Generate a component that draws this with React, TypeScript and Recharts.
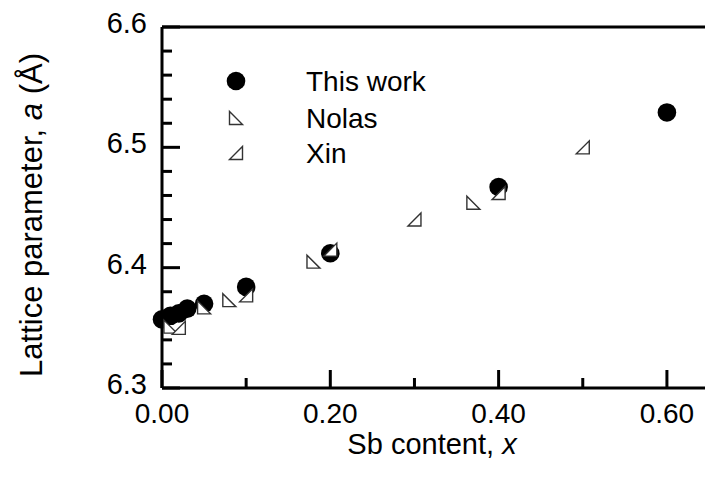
import React from 'react';
import { ScatterChart, Scatter, XAxis, YAxis, Legend } from 'recharts';

// Sb content x and lattice parameter a (Å)
const thisWorkX = [0, 0.01, 0.02, 0.03, 0.05, 0.1, 0.2, 0.4, 0.6];
const thisWorkA = [6.357, 6.36, 6.362, 6.366, 6.37, 6.384, 6.412, 6.467, 6.529];

const nolasX = [0.01, 0.05, 0.08, 0.18, 0.37];
const nolasA = [6.351, 6.367, 6.373, 6.405, 6.454];

const xinX = [0.02, 0.1, 0.2, 0.3, 0.4, 0.5];
const xinA = [6.35, 6.377, 6.415, 6.44, 6.462, 6.5];

const seriesNames = ['This work', 'Nolas', 'Xin'];

const xTicks = [0, 0.1, 0.2, 0.3, 0.4, 0.5, 0.6];
const xLabelTicks = [0, 0.2, 0.4, 0.6];
const yTicks = [6.3, 6.32, 6.34, 6.36, 6.38, 6.4, 6.42, 6.44, 6.46, 6.48, 6.5, 6.52, 6.54, 6.56, 6.58, 6.6];
const yLabelTicks = [6.3, 6.4, 6.5, 6.6];

const FONT = '"Liberation Sans", Arial, sans-serif';
const MAJOR = 18;
const MINOR = 10;
const TRI = 13;

const thisWorkData = thisWorkX.map((x, i) => ({ x, a: thisWorkA[i] }));
const nolasData = nolasX.map((x, i) => ({ x, a: nolasA[i] }));
const xinData = xinX.map((x, i) => ({ x, a: xinA[i] }));

const isMajor = (v: number, list: number[]) => list.some((m) => Math.abs(m - v) < 1e-6);

const Dot = ({ cx, cy }: any) => <circle cx={cx} cy={cy} r={9.3} fill="#000" />;

const NolasMark = ({ cx, cy }: any) => {
  const h = TRI / 2;
  return (
    <polygon
      points={`${cx - h},${cy - h} ${cx - h},${cy + h} ${cx + h},${cy + h}`}
      fill="#fff"
      stroke="#333"
      strokeWidth={1.4}
    />
  );
};

const XinMark = ({ cx, cy }: any) => {
  const h = TRI / 2;
  return (
    <polygon
      points={`${cx - h},${cy + h} ${cx + h},${cy + h} ${cx + h},${cy - h}`}
      fill="#fff"
      stroke="#333"
      strokeWidth={1.4}
    />
  );
};

// inward tick marks; labels only on the majors
const BottomTick = ({ x, y, payload }: any) => {
  const major = isMajor(payload.value, xLabelTicks);
  return (
    <g>
      <line x1={x} x2={x} y1={y} y2={y - (major ? MAJOR : MINOR)} stroke="#000" strokeWidth={3} />
      {major && (
        <text x={x} y={y + 35} textAnchor="middle" fontSize={28} fontFamily={FONT} fill="#000">
          {payload.value.toFixed(2)}
        </text>
      )}
    </g>
  );
};

const TopTick = ({ x, y, payload }: any) => {
  const major = isMajor(payload.value, xLabelTicks);
  return <line x1={x} x2={x} y1={y} y2={y + (major ? MAJOR : MINOR)} stroke="#000" strokeWidth={3} />;
};

const LeftTick = ({ x, y, payload }: any) => {
  const major = isMajor(payload.value, yLabelTicks);
  return (
    <g>
      <line x1={x} x2={x + (major ? MAJOR : MINOR)} y1={y} y2={y} stroke="#000" strokeWidth={3} />
      {major && (
        <text x={x - 15} y={y + 6} textAnchor="end" fontSize={29} fontFamily={FONT} fill="#000">
          {payload.value.toFixed(1)}
        </text>
      )}
    </g>
  );
};

const RightTick = ({ x, y, payload }: any) => {
  const major = isMajor(payload.value, yLabelTicks);
  return <line x1={x} x2={x - (major ? MAJOR : MINOR)} y1={y} y2={y} stroke="#000" strokeWidth={3} />;
};

const XTitle = () => (
  <text x={432} y={454} textAnchor="middle" fontSize={29} fontFamily={FONT} fill="#000">
    Sb content, <tspan fontStyle="italic">x</tspan>
  </text>
);

const YTitle = () => (
  <text
    x={42}
    y={215}
    transform="rotate(-90 42 215)"
    textAnchor="middle"
    fontSize={31}
    fontFamily={FONT}
    fill="#000"
  >
    Lattice parameter, <tspan fontStyle="italic">a</tspan> (Å)
  </text>
);

const markFor: Record<string, (p: any) => React.ReactElement> = {
  'This work': Dot,
  Nolas: NolasMark,
  Xin: XinMark,
};

const rowY = [21, 58, 93];

const renderLegend = () => (
  <svg width={300} height={120} style={{ display: 'block' }}>
    {seriesNames.map((name, i) => {
      const Mark = markFor[name];
      return (
        <g key={name}>
          <Mark cx={36} cy={rowY[i]} />
          <text x={106} y={rowY[i] + 10} fontSize={28} fontFamily={FONT} fill="#000">
            {name}
          </text>
        </g>
      );
    })}
  </svg>
);

export default function App() {
  return (
    <div style={{ position: 'absolute', left: 0, top: 0, width: 705, height: 481, overflow: 'hidden', background: '#fff' }}>
      <ScatterChart width={720} height={481} margin={{ top: 26, right: 0, bottom: 0, left: 0 }}>
        <XAxis
          type="number"
          dataKey="x"
          domain={[0, 0.65]}
          ticks={xTicks}
          interval={0}
          tickSize={0}
          tickMargin={0}
          tickLine={false}
          tick={<BottomTick />}
          height={93}
          axisLine={{ stroke: '#000', strokeWidth: 3 }}
          label={<XTitle />}
        />
        <XAxis
          xAxisId="top"
          orientation="top"
          type="number"
          dataKey="x"
          domain={[0, 0.65]}
          ticks={xTicks}
          interval={0}
          tickSize={0}
          tickMargin={0}
          tickLine={false}
          tick={<TopTick />}
          height={1}
          axisLine={{ stroke: '#000', strokeWidth: 3 }}
        />
        <YAxis
          type="number"
          dataKey="a"
          domain={[6.3, 6.6]}
          ticks={yTicks}
          interval={0}
          tickSize={0}
          tickMargin={0}
          tickLine={false}
          tick={<LeftTick />}
          width={162}
          axisLine={{ stroke: '#000', strokeWidth: 3 }}
          label={<YTitle />}
        />
        <YAxis
          yAxisId="r"
          orientation="right"
          type="number"
          dataKey="a"
          domain={[6.3, 6.6]}
          ticks={yTicks}
          interval={0}
          tickSize={0}
          tickMargin={0}
          tickLine={false}
          tick={<RightTick />}
          width={11}
          axisLine={{ stroke: '#000', strokeWidth: 3 }}
        />
        <Legend
          layout="vertical"
          align="center"
          verticalAlign="middle"
          content={renderLegend}
          wrapperStyle={{ left: 200, top: 60, width: 300, height: 120 }}
        />
        <Scatter name="This work" data={thisWorkData} fill="#000" shape={Dot} isAnimationActive={false} />
        <Scatter name="Nolas" data={nolasData} fill="#fff" shape={NolasMark} isAnimationActive={false} />
        <Scatter name="Xin" data={xinData} fill="#fff" shape={XinMark} isAnimationActive={false} />
      </ScatterChart>
    </div>
  );
}
